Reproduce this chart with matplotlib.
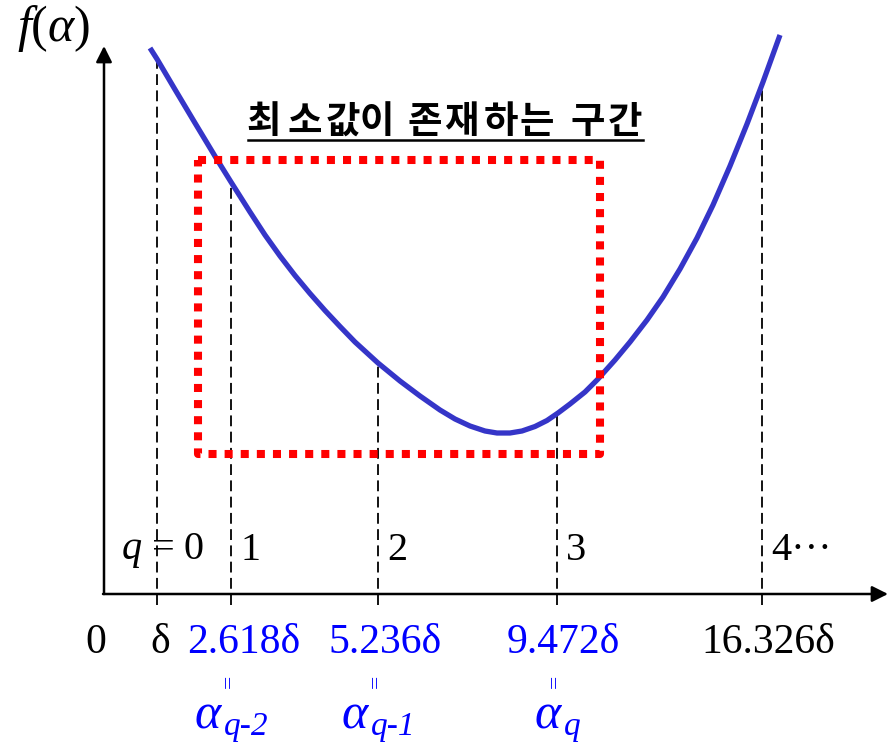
import matplotlib
matplotlib.use('Agg')
import matplotlib.pyplot as plt
import numpy as np

plt.rcParams['mathtext.fontset'] = 'custom'
plt.rcParams['mathtext.rm'] = 'Liberation Serif'
plt.rcParams['mathtext.it'] = 'Liberation Serif:italic'

# f(alpha) sketch, schematic horizontal units
curve_x = [4.6, 5.3, 7.1, 9.1, 11.3, 12.7, 14.6, 16.1, 17.6, 19.1, 20.6, 22.1,
           23.6, 25.1, 27.4, 29.6, 31.6, 33.6, 35.1, 36.6, 38.1, 39.3, 40.6,
           41.8, 43.1, 44.3, 45.4, 46.6, 48.1, 49.4, 51.1, 52.6, 54.3, 55.9,
           57.6, 59.3, 60.9, 62.6, 64.3, 65.9, 67.6]
curve_y = [54.6, 53.5, 50.45, 47.1, 43.45, 41.2, 38.2, 35.9, 33.8, 31.85, 30.05, 28.35,
           26.75, 25.2, 23.1, 21.3, 19.8, 18.4, 17.5, 16.8, 16.3, 16.1, 16.1,
           16.3, 16.75, 17.35, 18.1, 19.0, 20.2, 21.5, 23.4, 25.2, 27.4, 29.7,
           32.5, 35.6, 38.9, 42.8, 47.0, 51.2, 55.9]

# trial points q = 0, 1, 2, 3, 4
tick_x = [5.3, 12.7, 27.4, 45.3, 65.8]
q_labels = [r'$q$ = 0', '1', '2', '3', '4···']
alpha_labels = ['δ', '2.618δ', '5.236δ', '9.472δ', '16.326δ']
alpha_colors = ['black', 'blue', 'blue', 'blue', 'black']
alpha_subs = ['', 'q-2', 'q-1', 'q', '']

# bracket containing the minimum
box_x = [9.4, 49.6]
box_y = [14.0, 43.4]
title = '최소값이 존재하는 구간'

serif = ['Liberation Serif', 'DejaVu Serif']

fig = plt.figure(figsize=(8.88, 7.45), dpi=100)
ax = fig.add_axes([0, 0, 1, 1])
ax.set_xlim(-10.4, 78.4)
ax.set_ylim(-15.1, 59.4)
ax.axis('off')

# axes with arrow heads
arrow = dict(arrowstyle='-|>', lw=1.8, color='black', mutation_scale=24,
             shrinkA=0, shrinkB=0)
ax.annotate('', xy=(0, 54.8), xytext=(0, 0), arrowprops=arrow)
ax.annotate('', xy=(78.4, 0), xytext=(-0.1, 0), arrowprops=arrow)

# dashed drop lines from the curve to the axis
tops = np.interp(tick_x, curve_x, curve_y)
for x, top in zip(tick_x, tops):
    ax.plot([x, x], [-1.1, top], color='black', lw=1.3, dashes=(6, 3), zorder=2)

ax.plot(curve_x, curve_y, color='#3535c8', lw=3.8, solid_capstyle='butt',
        solid_joinstyle='round', zorder=3)

bx = [box_x[0], box_x[1], box_x[1], box_x[0], box_x[0]]
by = [box_y[1], box_y[1], box_y[0], box_y[0], box_y[1]]
ax.plot(bx, by, color='red', lw=5.8, linestyle=(0, (1, 1)),
        dash_capstyle='butt', zorder=4)

# title, one syllable at a time to get the wide spacing
title_x = [16.0, 20.1, 23.9, 27.3, 32.1, 35.7, 39.7, 43.3, 48.4, 52.1]
chars = [c for c in title if c != ' ']
for c, x in zip(chars, title_x):
    ax.text(x, 47.3, c, fontsize=27, fontweight='bold', ha='center', va='center',
            family=['Noto Sans CJK KR', 'DejaVu Sans'])
ax.plot([14.4, 53.9], [45.4, 45.4], color='black', lw=1.8)

# y label
ax.text(-5.0, 56.6, r'$f(\alpha)$', fontsize=36, ha='center', va='center')

# q index labels
ax.text(tick_x[0] + 0.6, 4.4, q_labels[0], fontsize=29, family=serif,
        ha='center', va='center')
for x, lab in zip(tick_x[1:], q_labels[1:]):
    ax.text(x + 0.9, 4.4, lab, fontsize=29, family=serif, ha='left', va='center')

# step values under the axis
label_dx = [0.3, 1.3, 0.7, 0.6, 0.6]
ax.text(-0.8, -4.9, '0', fontsize=30, family=serif, ha='center', va='center')
for x, dx, lab, col in zip(tick_x, label_dx, alpha_labels, alpha_colors):
    ax.text(x + dx, -4.9, lab, fontsize=30, family=serif, color=col,
            ha='center', va='center')

sub_dx = {'q-2': -0.8, 'q-1': -0.8, 'q': 0.6}
for x, sub in zip(tick_x, alpha_subs):
    if not sub:
        continue
    ax.text(x - 0.2, -8.7, '=', fontsize=17, family=serif, color='blue', rotation=90,
            ha='center', va='center')
    ax.text(x + sub_dx[sub], -13.4, r'$\alpha$', fontsize=36, color='blue',
            ha='right', va='baseline')
    ax.text(x + sub_dx[sub] + 0.1, -14.1, sub, fontsize=24, family=serif,
            style='italic', color='blue', ha='left', va='baseline')

fig.savefig('out.png', dpi=100)
